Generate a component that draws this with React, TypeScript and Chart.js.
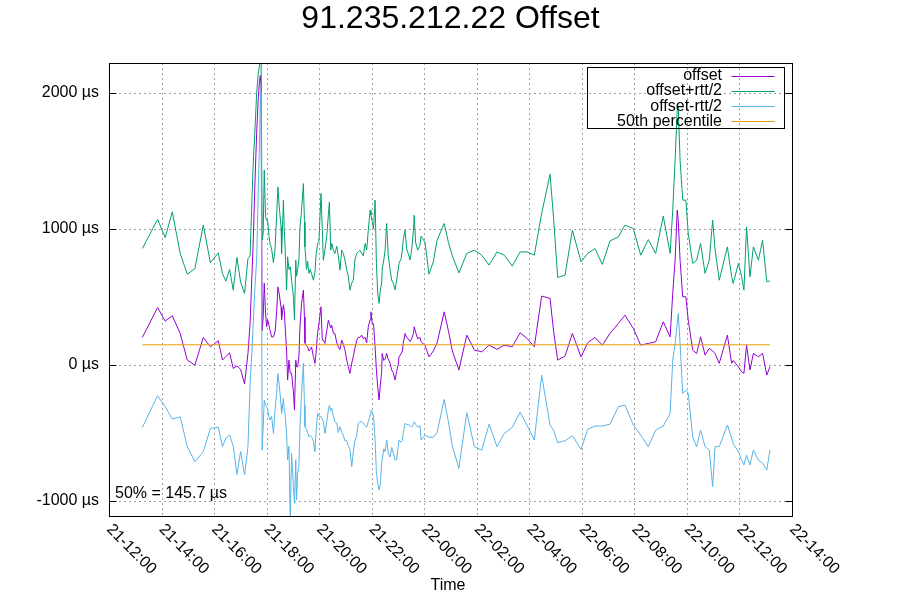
import { useEffect, useRef } from "react";
import { Chart, registerables } from "chart.js";

Chart.register(...registerables);

const TITLE = "91.235.212.22 Offset";
const X_TITLE = "Time";
const ANNOTATION = "50% = 145.7 µs";

// sample times, in hours since 21-00:00
const times = [
  13.27, 13.85, 14.14, 14.41, 14.71, 14.98, 15.27, 15.59, 15.86, 16.16,
  16.32, 16.45, 16.59, 16.73, 16.87, 17.01, 17.16, 17.29, 17.37, 17.44,
  17.49, 17.55, 17.62, 17.68, 17.73, 17.76, 17.79, 17.83, 17.87, 17.91,
  17.96, 18.0, 18.04, 18.09, 18.13, 18.19, 18.26, 18.32, 18.38, 18.43,
  18.48, 18.55, 18.57, 18.64, 18.67, 18.7, 18.76, 18.8, 18.85, 18.9,
  18.95, 19.02, 19.06, 19.11, 19.14, 19.18, 19.23, 19.27, 19.33, 19.4,
  19.44, 19.46, 19.52, 19.56, 19.61, 19.66, 19.71, 19.78, 19.84, 19.88,
  19.94, 19.99, 20.07, 20.12, 20.16, 20.22, 20.29, 20.35, 20.39, 20.44,
  20.48, 20.54, 20.6, 20.67, 20.73, 20.79, 20.86, 20.92, 20.98, 21.05,
  21.11, 21.17, 21.24, 21.3, 21.36, 21.43, 21.49, 21.55, 21.62, 21.68,
  21.75, 21.81, 21.87, 21.94, 21.97, 22.02, 22.07, 22.13, 22.18, 22.23,
  22.28, 22.33, 22.38, 22.4, 22.46, 22.51, 22.57, 22.63, 22.7, 22.76,
  22.82, 22.89, 22.95, 23.01, 23.04, 23.12, 23.17, 23.2, 23.27, 23.33,
  23.39, 23.46, 23.52, 23.59, 23.62, 23.67, 23.75, 23.84, 23.88, 24.03,
  24.18, 24.35, 24.49, 24.76, 24.92, 25.07, 25.32, 25.62, 25.91, 26.19,
  26.47, 26.77, 27.05, 27.35, 27.65, 27.91, 28.19, 28.47, 28.79, 28.92,
  29.08, 29.36, 29.64, 29.97, 30.22, 30.5, 30.78, 31.07, 31.39, 31.64,
  31.96, 32.24, 32.53, 32.81, 33.1, 33.36, 33.46, 33.55, 33.63, 33.67,
  33.74, 33.84, 33.96, 34.05, 34.22, 34.37, 34.52, 34.69, 34.85, 34.98,
  35.07, 35.23, 35.54, 35.7, 35.76, 35.96, 36.08, 36.17, 36.27, 36.4,
  36.53, 36.72, 36.88, 37.04, 37.16,
];

// offset (µs)
const offsetValues = [
  200, 420, 320, 359, 229, 33, -4, 200, 131, 175,
  33, 60, 87, -28, -10, -35, -143, 82, 300, 650,
  900, 1300, 1700, 1950, 2090, 2127, 2050, 250, 350, 599,
  379, 278, 330, 290, 254, 204, 204, 240, 379, 572,
  520, 420, 330, 440, 400, 300, 107, -114, 33, -63,
  -63, -200, -335, 33, -16, -16, 60, 278, 450, 548,
  350, 158, 140, 130, 100, 110, 130, 60, 9, 80,
  230, 300, 425, 180, 180, 156, 250, 327, 300, 270,
  290, 230, 229, 160, 131, 110, 180, 150, 110, 33,
  -16, -65, 10, 60, 120, 180, 200, 200, 217, 190,
  200, 160, 278, 330, 388, 300, 300, 131, -40, -163,
  -261, -150, -50, 82, 30, 40, 82, 40, 10, -40,
  -60, -114, -50, 0, 57, 80, 100, 156, 229, 200,
  190, 170, 190, 229, 278, 240, 190, 200, 170, 140,
  57, 100, 160, 388, 250, 100, -40, 217, 107, 94,
  143, 112, 143, 131, 234, 193, 131, 504, 487, 254,
  33, 62, 229, 57, 160, 200, 143, 229, 303, 364,
  266, 143, 156, 168, 315, 204, 524, 768, 1136, 1062,
  768, 499, 499, 327, 107, 82, 204, 70, 119, 100,
  82, 9, 217, 9, 30, -16, -53, -65, 143, -40,
  82, 57, 82, -77, -16,
];

// offset + rtt/2 (µs)
const upperValues = [
  854, 1068, 935, 1124, 818, 665, 707, 1026, 749, 822,
  670, 614, 700, 548, 788, 608, 523, 781, 800, 1200,
  1480, 1700, 1994, 2140, 2200, 2300, 2300, 915, 965, 1430,
  1087, 1060, 1062, 950, 891, 850, 750, 850, 1087, 1307,
  1160, 1013, 818, 1210, 1000, 880, 548, 793, 700, 720,
  621, 500, 327, 768, 650, 700, 768, 1013, 1136, 1332,
  1050, 866, 700, 760, 671, 700, 671, 621, 680, 800,
  891, 900, 1259, 1000, 768, 842, 950, 1100, 1197, 842,
  891, 842, 818, 870, 800, 695, 842, 818, 770, 695,
  650, 548, 600, 620, 770, 818, 830, 842, 818, 800,
  891, 842, 989, 1136, 1100, 1050, 1000, 1210, 744, 524,
  450, 550, 600, 700, 770, 842, 1038, 800, 700, 621,
  600, 550, 621, 700, 744, 780, 850, 915, 989, 850,
  818, 770, 842, 989, 1099, 900, 842, 880, 945, 900,
  665, 760, 915, 1038, 900, 800, 675, 818, 842, 805,
  732, 829, 805, 724, 829, 829, 805, 1112, 1401, 1087,
  641, 658, 989, 756, 818, 854, 737, 910, 940, 1026,
  1001, 805, 920, 818, 1092, 818, 1136, 1504, 1871, 1896,
  1504, 1210, 1210, 965, 744, 768, 891, 671, 768, 1062,
  850, 621, 866, 650, 597, 744, 650, 548, 1013, 646,
  866, 768, 915, 609, 616,
];

// offset - rtt/2 (µs)
const lowerValues = [
  -462, -229, -310, -401, -384, -604, -715, -641, -469, -462,
  -604, -540, -518, -600, -808, -640, -812, -604, -150, 100,
  300, 550, 768, 1260, 1650, 1945, 2006, -629, -457, -261,
  -300, -310, -330, -380, -408, -380, -506, -335, -212, -65,
  -150, -300, -359, -250, -330, -359, -506, -702, -600, -1150,
  -653, -898, -1020, -700, -996, -800, -750, -457, -212, 9,
  -300, -457, -480, -500, -531, -520, -531, -560, -641, -500,
  -359, -380, -384, -400, -420, -506, -420, -335, -300, -340,
  -320, -380, -420, -430, -500, -457, -500, -520, -560, -560,
  -600, -620, -751, -640, -560, -520, -432, -420, -420, -430,
  -450, -460, -420, -370, -335, -350, -380, -555, -800, -873,
  -923, -880, -726, -700, -620, -640, -555, -650, -680, -610,
  -650, -702, -700, -600, -555, -570, -560, -506, -432, -440,
  -440, -450, -460, -440, -420, -440, -460, -450, -555, -520,
  -535, -535, -500, -256, -420, -600, -763, -354, -604, -629,
  -438, -604, -506, -462, -351, -445, -555, -77, -445, -482,
  -575, -560, -523, -624, -476, -452, -452, -438, -310, -298,
  -445, -518, -604, -482, -452, -359, 33, 156, 300, 376,
  156, -212, -188, -212, -531, -604, -482, -604, -629, -898,
  -604, -604, -445, -540, -580, -641, -700, -739, -665, -739,
  -629, -702, -726, -776, -629,
];

const percentile50 = 145.7;

const xTickHours = [12, 14, 16, 18, 20, 22, 24, 26, 28, 30, 32, 34, 36, 38];
const xTickLabels = [
  "21-12:00", "21-14:00", "21-16:00", "21-18:00", "21-20:00", "21-22:00", "22-00:00",
  "22-02:00", "22-04:00", "22-06:00", "22-08:00", "22-10:00", "22-12:00", "22-14:00",
];
const yTickValues = [-1000, 0, 1000, 2000];
const yMin = -1114;
const yMax = 2219;

const seriesNames = ["offset", "offset+rtt/2", "offset-rtt/2", "50th percentile"];
const seriesColors = ["#9400d3", "#009e73", "#56b4e9", "#e69f00"];

const FONT = '"Liberation Sans", Arial, sans-serif';

const decor = {
  id: "gnuplotDecor",
  beforeDatasetsDraw(chart: any) {
    const { ctx, chartArea: a, scales } = chart;
    const x = scales.x;
    const y = scales.y;
    ctx.save();
    ctx.strokeStyle = "#a0a0a0";
    ctx.lineWidth = 1;
    ctx.setLineDash([2, 3]);
    ctx.beginPath();
    for (const h of xTickHours) {
      const px = Math.round(x.getPixelForValue(h)) + 0.5;
      if (px <= a.left + 1 || px >= a.right - 1) continue;
      ctx.moveTo(px, a.top);
      ctx.lineTo(px, a.bottom);
    }
    for (const v of yTickValues) {
      const py = Math.round(y.getPixelForValue(v)) + 0.5;
      ctx.moveTo(a.left, py);
      ctx.lineTo(a.right, py);
    }
    ctx.stroke();
    ctx.restore();
  },
  afterDatasetsDraw(chart: any) {
    const { ctx, chartArea: a, scales } = chart;
    const x = scales.x;
    const y = scales.y;
    ctx.save();
    ctx.setLineDash([]);
    ctx.strokeStyle = "#000";
    ctx.lineWidth = 1;
    // frame
    const L = Math.round(a.left) + 0.5;
    const R = Math.round(a.right) + 0.5;
    const T = Math.round(a.top) + 0.5;
    const B = Math.round(a.bottom) + 0.5;
    ctx.strokeRect(L, T, R - L, B - T);
    // inward y tick marks
    ctx.beginPath();
    for (const v of yTickValues) {
      const py = Math.round(y.getPixelForValue(v)) + 0.5;
      ctx.moveTo(L, py);
      ctx.lineTo(L + 7, py);
      ctx.moveTo(R, py);
      ctx.lineTo(R - 7, py);
    }
    ctx.stroke();

    ctx.fillStyle = "#000";
    // title
    ctx.font = `32px ${FONT}`;
    ctx.textAlign = "center";
    ctx.textBaseline = "alphabetic";
    ctx.fillText(TITLE, (a.left + a.right) / 2, 28);

    // x tick labels, rotated
    ctx.font = `16px ${FONT}`;
    xTickHours.forEach((h, i) => {
      const px = x.getPixelForValue(h);
      ctx.save();
      ctx.translate(px, a.bottom + 11);
      ctx.rotate(Math.PI / 4);
      ctx.textAlign = "left";
      ctx.textBaseline = "middle";
      ctx.fillText(xTickLabels[i], 0, 0);
      ctx.restore();
    });

    // x title
    ctx.textAlign = "center";
    ctx.textBaseline = "middle";
    ctx.fillText(X_TITLE, 448, 586);

    // annotation
    ctx.textAlign = "left";
    ctx.textBaseline = "alphabetic";
    ctx.fillText(ANNOTATION, a.left + 6, y.getPixelForValue(-1000) - 3);

    // legend
    const bx = Math.round(a.right) - 205 + 0.5;
    const by = Math.round(a.top) + 4 + 0.5;
    ctx.strokeRect(bx, by, 197, 61);
    ctx.textAlign = "right";
    ctx.textBaseline = "middle";
    seriesNames.forEach((name, i) => {
      const ry = by + 8 + i * 15.3;
      ctx.fillStyle = "#000";
      ctx.fillText(name, bx + 134.5, ry);
      ctx.strokeStyle = seriesColors[i];
      ctx.beginPath();
      ctx.moveTo(bx + 144, Math.round(ry) + 0.5);
      ctx.lineTo(bx + 187, Math.round(ry) + 0.5);
      ctx.stroke();
    });
    ctx.restore();
  },
};

export default function App() {
  const ref = useRef<HTMLCanvasElement>(null);
  useEffect(() => {
    const toPoints = (vals: number[]) => times.map((t, i) => ({ x: t, y: vals[i] }));
    const series = [offsetValues, upperValues, lowerValues];
    const datasets: any[] = series.map((vals, i) => ({
      label: seriesNames[i],
      data: toPoints(vals),
      borderColor: seriesColors[i],
      borderWidth: 1,
      pointRadius: 0,
      tension: 0,
      fill: false,
      order: 4 - i,
    }));
    datasets.push({
      label: seriesNames[3],
      data: [
        { x: times[0], y: percentile50 },
        { x: times[times.length - 1], y: percentile50 },
      ],
      borderColor: seriesColors[3],
      borderWidth: 1,
      pointRadius: 0,
      tension: 0,
      fill: false,
      order: 1,
    });
    const chart = new Chart(ref.current as HTMLCanvasElement, {
      type: "line",
      data: { datasets },
      options: {
        animation: false,
        responsive: false,
        devicePixelRatio: 1,
        layout: { padding: { top: 63, right: 108, bottom: 0, left: 0 } },
        plugins: { legend: { display: false }, tooltip: { enabled: false }, title: { display: false } },
        scales: {
          x: {
            type: "linear",
            min: 12,
            max: 38,
            ticks: { display: false },
            grid: { display: false, drawTicks: false },
            border: { display: false },
            afterFit: (s: any) => {
              s.height = 84;
            },
          },
          y: {
            type: "linear",
            min: yMin,
            max: yMax,
            afterBuildTicks: (s: any) => {
              s.ticks = yTickValues.map((v) => ({ value: v }));
            },
            ticks: {
              padding: 10,
              color: "#000",
              font: { family: FONT, size: 16 },
              callback: (v: any) => `${v} µs`,
            },
            grid: { display: false, drawTicks: false },
            border: { display: false },
            afterFit: (s: any) => {
              s.width = 109;
            },
          },
        },
      },
      plugins: [decor],
    } as any);
    return () => chart.destroy();
  }, []);
  return (
    <div style={{ position: "absolute", left: 0, top: 0, width: 900, height: 600, background: "#fff" }}>
      <canvas ref={ref} width={900} height={600} style={{ width: 900, height: 600, display: "block" }} />
    </div>
  );
}
